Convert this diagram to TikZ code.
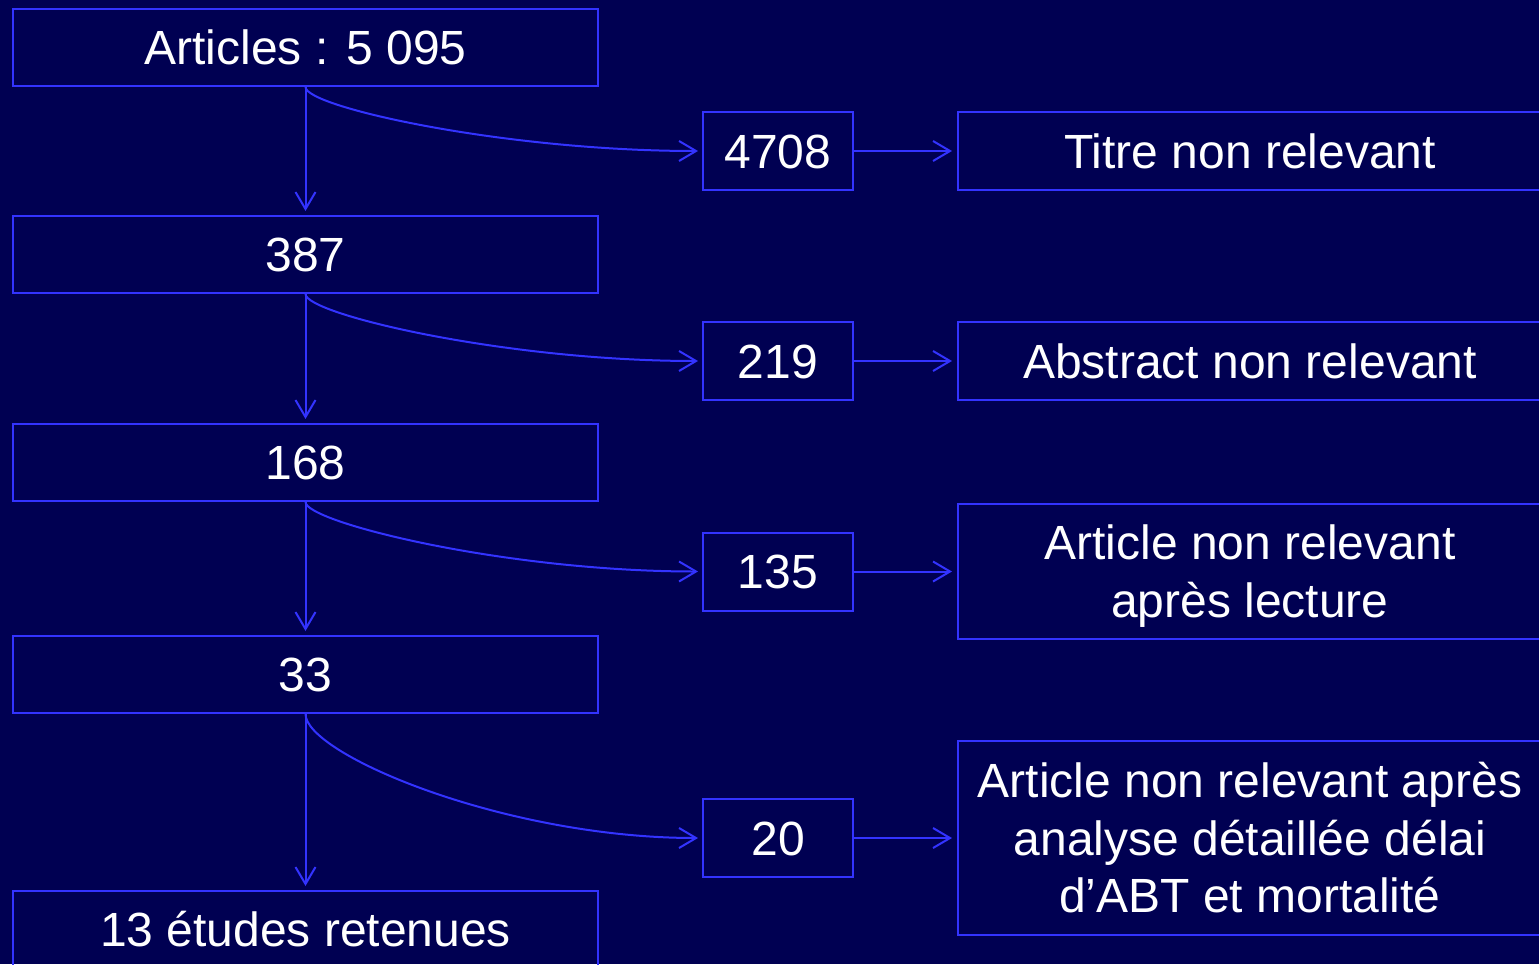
\documentclass[tikz,border=0pt]{standalone}
\usepackage{fontspec}
\setmainfont{Liberation Sans}
\usetikzlibrary{arrows.meta}
\definecolor{bgnavy}{RGB}{0,0,82}
\definecolor{lineblue}{RGB}{51,51,255}
\tikzset{
  flowbox/.style={draw=lineblue, line width=2pt, text=white, inner sep=0pt, align=center,
    font=\fontsize{48}{57.5}\selectfont, text height=34pt, text depth=0pt},
  leftbox/.style={flowbox, minimum width=585pt, minimum height=77pt},
  numbox/.style={flowbox, minimum width=150pt, minimum height=78pt},
  rightbox/.style={flowbox, minimum width=584pt},
  conn/.style={draw=lineblue, line width=2pt, -{Straight Barb[length=17pt,width=20pt,line width=2pt]}}
}
\begin{document}
\begin{tikzpicture}[x=1pt,y=-1pt]
\path[use as bounding box, fill=bgnavy] (0,0) rectangle (1539,964);
\clip (0,0) rectangle (1539,964);
\node[leftbox] (a1) at (305.5,47.5) {Articles : 5 095};
\node[leftbox] (a2) at (305.5,254.5) {387};
\node[leftbox] (a3) at (305.5,462.5) {168};
\node[leftbox] (a4) at (305.5,674.5) {33};
\node[leftbox] (a5) at (305.5,929.5) {13 études retenues};
\node[numbox] (n1) at (778,151) {4708};
\node[numbox] (n2) at (778,361) {219};
\node[numbox] (n3) at (778,571.5) {135};
\node[numbox] (n4) at (778,838) {20};
\node[rightbox, minimum height=78pt] (r1) at (1250,151) {Titre non relevant};
\node[rightbox, minimum height=78pt] (r2) at (1250,361) {Abstract non relevant};
\node[rightbox, minimum height=135pt, text height=91.5pt] (r3) at (1250,571.5) {Article non relevant\\après lecture};
\node[rightbox, minimum height=194pt, text height=149pt] (r4) at (1250,838) {Article non relevant après\\analyse détaillée délai\\d’ABT et mortalité};
\draw[conn] (a1.south) -- ([yshift=4pt]a2.north);
\draw[conn] (a2.south) -- ([yshift=4pt]a3.north);
\draw[conn] (a3.south) -- ([yshift=4pt]a4.north);
\draw[conn] (a4.south) -- ([yshift=4pt]a5.north);
\draw[conn] (a1.south) .. controls +(0,20) and +(-194,0) .. ([xshift=-4pt]n1.west);
\draw[conn] (a2.south) .. controls +(0,20) and +(-194,0) .. ([xshift=-4pt]n2.west);
\draw[conn] (a3.south) .. controls +(0,20) and +(-194,0) .. ([xshift=-4pt]n3.west);
\draw[conn] (a4.south) .. controls +(0,40) and +(-194,0) .. ([xshift=-4pt]n4.west);
\draw[conn] (n1.east) -- ([xshift=-5pt]r1.west);
\draw[conn] (n2.east) -- ([xshift=-5pt]r2.west);
\draw[conn] (n3.east) -- ([xshift=-5pt]r3.west);
\draw[conn] (n4.east) -- ([xshift=-5pt]r4.west);
\end{tikzpicture}
\end{document}
